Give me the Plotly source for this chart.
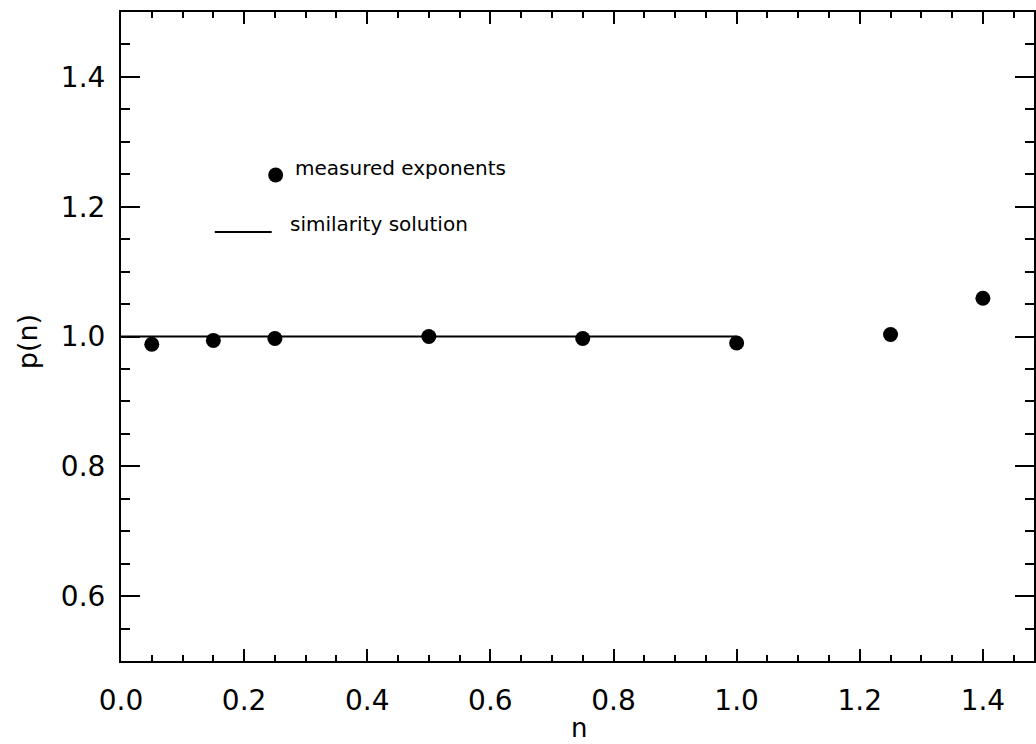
import plotly.graph_objects as go

# Data
n_measured = [0.05, 0.15, 0.25, 0.50, 0.75, 1.00, 1.25, 1.40]
p_measured = [0.988, 0.994, 0.997, 1.000, 0.997, 0.990, 1.003, 1.059]
n_similarity = [0.0, 1.0]
p_similarity = [1.0, 1.0]

x_tickvals = [0.0, 0.2, 0.4, 0.6, 0.8, 1.0, 1.2, 1.4]
x_ticktext = ["0.0", "0.2", "0.4", "0.6", "0.8", "1.0", "1.2", "1.4"]
y_tickvals = [0.6, 0.8, 1.0, 1.2, 1.4]
y_ticktext = ["0.6", "0.8", "1.0", "1.2", "1.4"]

legend_labels = ["measured exponents", "similarity solution"]

FONT = "DejaVu Sans"
W, H = 1036, 744
ML, MT, MB, MR = 121, 12, 83, 0
PW = W - ML - MR
PH = H - MT - MB

fig = go.Figure()
fig.add_trace(go.Scatter(
    x=n_similarity, y=p_similarity, mode="lines",
    line=dict(color="black", width=2), showlegend=False, hoverinfo="skip"))
fig.add_trace(go.Scatter(
    x=n_measured, y=p_measured, mode="markers",
    marker=dict(color="black", size=15, line=dict(width=0)), showlegend=False))

def px_x(p):
    return (p - ML) / PW

def px_y(p):
    return 1 - (p - MT) / PH

# legend key: filled circle and short line, with labels
cx, cy, r = 276, 175, 7.5
fig.add_shape(type="circle", xref="paper", yref="paper",
              x0=px_x(cx - r), x1=px_x(cx + r), y0=px_y(cy + r), y1=px_y(cy - r),
              fillcolor="black", line=dict(width=0))
fig.add_shape(type="line", xref="paper", yref="paper",
              x0=px_x(215), x1=px_x(272), y0=px_y(232), y1=px_y(232),
              line=dict(color="black", width=2))
fig.add_annotation(text=legend_labels[0], xref="paper", yref="paper",
                   x=px_x(293), y=px_y(168), xanchor="left", yanchor="middle",
                   showarrow=False, font=dict(family=FONT, size=20, color="black"))
fig.add_annotation(text=legend_labels[1], xref="paper", yref="paper",
                   x=px_x(288), y=px_y(224), xanchor="left", yanchor="middle",
                   showarrow=False, font=dict(family=FONT, size=20, color="black"))

# axis titles
fig.add_annotation(text="p(n)", xref="paper", yref="paper",
                   x=px_x(27), y=px_y(342), xanchor="center", yanchor="middle",
                   textangle=-90, showarrow=False,
                   font=dict(family=FONT, size=27, color="black"))
fig.add_annotation(text="n", xref="paper", yref="paper",
                   x=px_x(580), y=px_y(728), xanchor="center", yanchor="middle",
                   showarrow=False, font=dict(family=FONT, size=26, color="black"))

fig.update_layout(
    width=W, height=H,
    margin=dict(l=ML, r=MR, t=MT, b=MB, pad=0),
    paper_bgcolor="white", plot_bgcolor="white",
    font=dict(family=FONT, size=28, color="black"),
    showlegend=False,
)
fig.update_xaxes(
    range=[0, 1.483], tickvals=x_tickvals, ticktext=x_ticktext,
    showgrid=False, zeroline=False,
    showline=True, linecolor="black", linewidth=2, mirror="allticks",
    ticks="inside", ticklen=12, tickwidth=2, tickcolor="black",
    minor=dict(dtick=0.05, tick0=0, ticks="inside", ticklen=6, tickwidth=2,
               tickcolor="black", showgrid=False),
    ticklabelstandoff=13,
)
fig.update_yaxes(
    range=[0.5, 1.5], tickvals=y_tickvals, ticktext=y_ticktext,
    showgrid=False, zeroline=False,
    showline=True, linecolor="black", linewidth=2, mirror="allticks",
    ticks="inside", ticklen=19, tickwidth=2, tickcolor="black",
    minor=dict(dtick=0.05, tick0=0.5, ticks="inside", ticklen=9, tickwidth=2,
               tickcolor="black", showgrid=False),
    ticklabelstandoff=8,
)

fig.write_html("out.html")
